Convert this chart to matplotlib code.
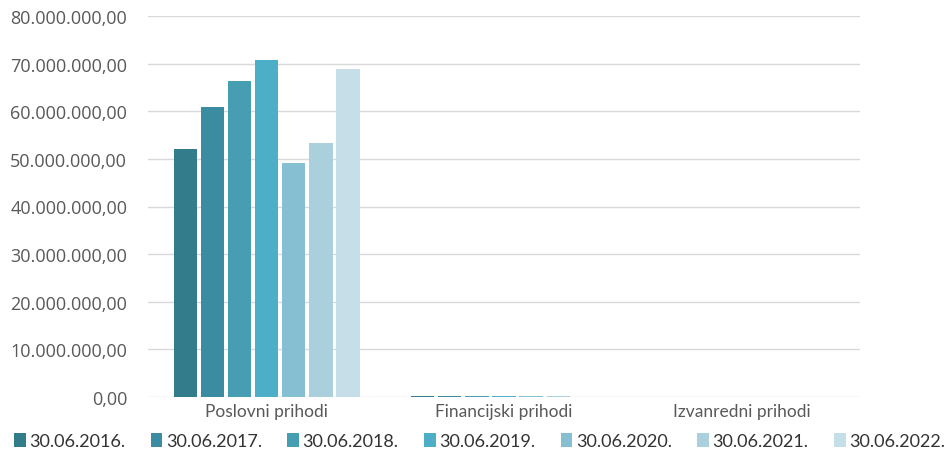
import matplotlib.pyplot as plt
import numpy as np

# podaci
kategorije = ['Poslovni prihodi', 'Financijski prihodi', 'Izvanredni prihodi']
godine = ['30.06.2016.', '30.06.2017.', '30.06.2018.', '30.06.2019.',
          '30.06.2020.', '30.06.2021.', '30.06.2022.']
poslovni = [52100000, 60900000, 66300000, 70800000, 49100000, 53300000, 68900000]
financijski = [180000, 160000, 150000, 140000, 120000, 110000, 90000]
izvanredni = [0, 0, 0, 0, 0, 0, 0]
boje = ['#327C8B', '#3B8CA0', '#479EB3', '#4DAEC7', '#86BFD2', '#AAD0DE', '#C6DEE7']

vrijednosti = np.array([poslovni, financijski, izvanredni]).T

fig = plt.figure(figsize=(9.44, 4.6), dpi=100)
ax = fig.add_axes([148 / 944, 62 / 460, 712 / 944, 381 / 460])

x = np.arange(len(kategorije))
sirina = 0.8 / len(godine)
for i, (god, boja) in enumerate(zip(godine, boje)):
    ax.bar(x - 0.4 + sirina * (i + 0.5), vrijednosti[i], width=sirina * 0.86,
           color=boja, linewidth=0, label=god, zorder=3)

ax.set_xlim(-0.5, 2.5)
ax.set_ylim(0, 80000000)
ax.set_yticks(np.arange(0, 80000001, 10000000))
ax.set_yticklabels([f'{v:,.2f}'.replace(',', 'X').replace('.', ',').replace('X', '.')
                    for v in np.arange(0, 80000001, 10000000)],
                   fontsize=13, color='#595959', family='Open Sans')
ax.set_xticks(x)
ax.set_xticklabels(kategorije, fontsize=12.5, color='#595959', family='Lato')
ax.tick_params(length=0, pad=4)
ax.tick_params(axis='y', pad=15)
ax.grid(axis='y', color='#D9D9D9', linewidth=1, zorder=0)
for s in ax.spines.values():
    s.set_visible(False)

leg = fig.legend(loc='lower center', bbox_to_anchor=(0.508, -0.014), ncol=7, frameon=False,
                 prop={'family': 'Lato', 'size': 13}, handlelength=0.65, handleheight=0.85,
                 handletextpad=0.2, columnspacing=1.4)
for t in leg.get_texts():
    t.set_color('#333333')

fig.savefig('out.png', dpi=100)
